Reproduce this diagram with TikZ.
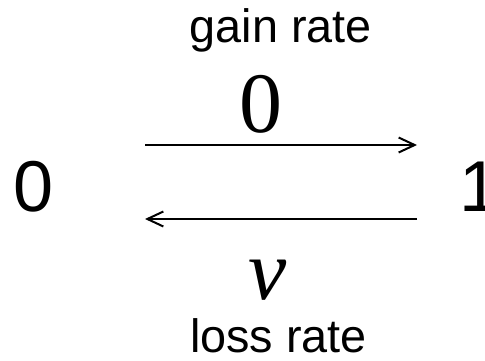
\documentclass[tikz,border=0pt]{standalone}
\usepackage{fontspec}
\setmainfont{Liberation Sans}
\newfontfamily\rmserif{Liberation Serif}
\usetikzlibrary{arrows.meta}
\tikzset{
  lbl/.style={inner sep=0pt, anchor=base, font=\fontsize{46.8}{50}\selectfont},
  state/.style={inner sep=0pt, anchor=base, font=\fontsize{72}{76}\selectfont},
  rate/.style={inner sep=0pt, anchor=base, font=\rmserif\fontsize{86}{90}\selectfont},
  trans/.style={line width=2pt, -{Straight Barb[length=16pt,width=15pt,line width=2pt]}}
}
\begin{document}
\begin{tikzpicture}[x=1pt,y=-1pt]
\useasboundingbox (0,0) rectangle (485,360);
\node[lbl] (gain) at (281,42) {gain rate};
\node[lbl] (loss) at (278.5,352) {loss rate};
\node[state] (s0) at (34,211) {0};
\node[state, anchor=base west] (s1) at (459,211) {1};
\node[rate] (r0) at (261,132) {0};
\node[rate] (r1) at (268,299) {\itshape v};
\coordinate (a1) at (145,145);
\coordinate (a2) at (417,145);
\coordinate (b1) at (417,219);
\coordinate (b2) at (145,219);
\draw[trans] (a1) -- (a2);
\draw[trans] (b1) -- (b2);
\end{tikzpicture}
\end{document}
